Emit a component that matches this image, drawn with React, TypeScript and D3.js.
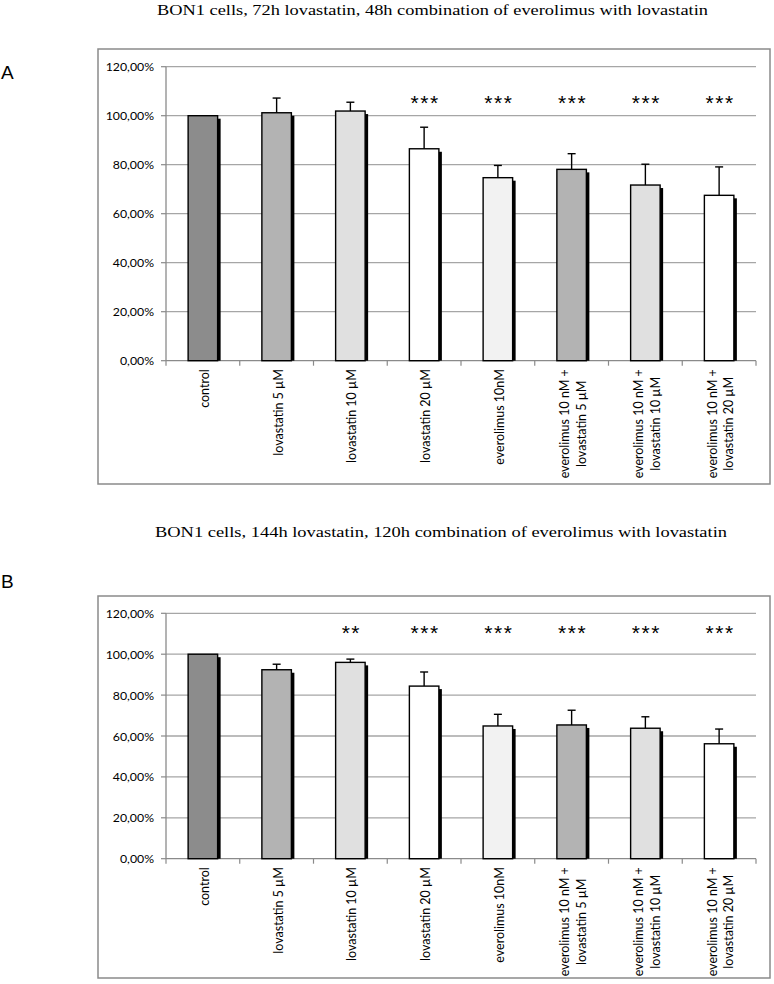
import React from "react";
import * as d3 from "d3";

const categories = [
  ["control"],
  ["lovastatin 5 µM"],
  ["lovastatin 10 µM"],
  ["lovastatin 20 µM"],
  ["everolimus 10nM"],
  ["everolimus 10 nM +", "lovastatin 5 µM"],
  ["everolimus 10 nM +", "lovastatin 10 µM"],
  ["everolimus 10 nM +", "lovastatin 20 µM"],
];
const barColors = ["#8c8c8c", "#b3b3b3", "#e0e0e0", "#ffffff", "#f2f2f2", "#b3b3b3", "#e0e0e0", "#ffffff"];

const valuesA = [100, 101.2, 101.9, 86.5, 74.7, 78.1, 71.7, 67.5];
const errorsA = [0, 6.0, 3.6, 8.8, 5.0, 6.4, 8.5, 11.6];
const starsA = ["", "", "", "***", "***", "***", "***", "***"];

const valuesB = [100, 92.4, 96.0, 84.4, 64.9, 65.4, 63.8, 56.2];
const errorsB = [0, 2.7, 1.6, 6.9, 5.7, 7.2, 5.6, 7.2];
const starsB = ["", "", "**", "***", "***", "***", "***", "***"];

const yTicks = [0, 20, 40, 60, 80, 100, 120];
const titleA = "BON1 cells, 72h lovastatin, 48h combination of everolimus with lovastatin";
const titleB = "BON1 cells, 144h lovastatin, 120h combination of everolimus with lovastatin";

const fmt = (v: number) => v.toFixed(2).replace(".", ",") + "%";
const labelFont = "Lato, 'Open Sans', sans-serif";
const labelSize = 12.5;

let ctx: CanvasRenderingContext2D | null = null;
function measure(s: string): number {
  if (typeof document !== "undefined") {
    if (!ctx) ctx = document.createElement("canvas").getContext("2d");
    if (ctx) {
      ctx.font = `${labelSize}px Lato`;
      return ctx.measureText(s).width;
    }
  }
  return s.length * 5.8;
}

type PanelProps = {
  letter: string;
  title: string;
  titleY: number;
  titleX0: number;
  titleX1: number;
  letterY: number;
  boxTop: number;
  boxBottom: number;
  plotTop: number;
  plotBottom: number;
  values: number[];
  errors: number[];
  stars: string[];
  starVal: number;
};

function Panel(p: PanelProps) {
  const left = 166;
  const right = 756;
  const x = d3.scaleBand<number>().domain(d3.range(categories.length)).range([left, right]).paddingInner(0).paddingOuter(0);
  const y = d3.scaleLinear().domain([0, 120]).range([p.plotBottom, p.plotTop]);
  const bw = 29.5;
  return (
    <g>
      <text
        x={p.titleX0}
        y={p.titleY}
        textLength={p.titleX1 - p.titleX0}
        lengthAdjust="spacingAndGlyphs"
        fontFamily="'Liberation Serif', 'Times New Roman', serif"
        fontSize={15}
        fill="#000"
      >
        {p.title}
      </text>
      <text x={1} y={p.letterY} fontFamily="'Liberation Sans', Arial, sans-serif" fontSize={19} fill="#000">
        {p.letter}
      </text>
      <rect x={98} y={p.boxTop} width={672} height={p.boxBottom - p.boxTop} fill="#fff" stroke="#8a8a8a" strokeWidth={1.5} />
      {yTicks.map((t) => (
        <g key={t}>
          {t > 0 && <line x1={left} x2={right} y1={y(t)} y2={y(t)} stroke="#a6a6a6" strokeWidth={1.3} />}
          <line x1={left - 5} x2={left} y1={y(t)} y2={y(t)} stroke="#8a8a8a" strokeWidth={1.2} />
          <text x={left - 12} y={y(t) + 4.5} textAnchor="end" fontFamily={labelFont} fontSize={12.3} fill="#000">
            {fmt(t)}
          </text>
        </g>
      ))}
      <line x1={left} x2={left} y1={y(120)} y2={y(0)} stroke="#8a8a8a" strokeWidth={1.3} />
      <line x1={left} x2={right} y1={y(0)} y2={y(0)} stroke="#8a8a8a" strokeWidth={1.3} />
      {d3.range(categories.length + 1).map((i) => {
        const xx = left + i * x.bandwidth();
        return <line key={i} x1={xx} x2={xx} y1={y(0)} y2={y(0) + 5} stroke="#8a8a8a" strokeWidth={1.2} />;
      })}
      {p.values.map((v, i) => {
        const cx = (x(i) as number) + x.bandwidth() / 2;
        const x0 = cx - bw / 2;
        const top = y(v);
        const etop = y(v + p.errors[i]);
        return (
          <g key={i}>
            <rect x={x0 + 3} y={top + 3} width={bw} height={y(0) - top - 3} fill="#000" />
            <rect x={x0} y={top} width={bw} height={y(0) - top} fill={barColors[i]} stroke="#000" strokeWidth={1.4} />
            {p.errors[i] > 0 && (
              <g stroke="#000" strokeWidth={1.4}>
                <line x1={cx} x2={cx} y1={top} y2={etop} />
                <line x1={cx - 4} x2={cx + 4} y1={etop} y2={etop} />
              </g>
            )}
            {p.stars[i] && (
              <text x={cx + 1} y={y(p.starVal) + 9} textAnchor="middle" fontFamily="'Liberation Sans', Arial, sans-serif" fontSize={21} letterSpacing={1.5} fill="#000">
                {p.stars[i]}
              </text>
            )}
          </g>
        );
      })}
      {categories.map((lines, i) => {
        const cx = (x(i) as number) + x.bandwidth() / 2;
        const n = lines.length;
        const spacing = 16.5;
        const blockLen = d3.max(lines, (l) => measure(l)) as number;
        const top = y(0) + 8.5;
        const centerY = top + blockLen / 2;
        return (
          <g key={i}>
            {lines.map((l, j) => {
              const lx = cx + 6 + (j - (n - 1) / 2) * spacing;
              return (
                <text key={j} transform={`translate(${lx},${centerY}) rotate(-90)`} textAnchor="middle" fontFamily={labelFont} fontSize={labelSize} fill="#000">
                  {l}
                </text>
              );
            })}
          </g>
        );
      })}
    </g>
  );
}

export default function App() {
  return (
    <svg width={774} height={984} style={{ position: "absolute", left: 0, top: 0, background: "#fff" }}>
      <rect x={0} y={0} width={774} height={984} fill="#fff" />
      <Panel
        letter="A"
        title={titleA}
        titleX0={157}
        titleX1={708}
        titleY={15}
        letterY={79}
        boxTop={49}
        boxBottom={484}
        plotTop={66.7}
        plotBottom={360.7}
        values={valuesA}
        errors={errorsA}
        stars={starsA}
        starVal={106}
      />
      <Panel
        letter="B"
        title={titleB}
        titleX0={155}
        titleX1={727}
        titleY={537}
        letterY={588}
        boxTop={596}
        boxBottom={978}
        plotTop={613.3}
        plotBottom={858.7}
        values={valuesB}
        errors={errorsB}
        stars={starsB}
        starVal={111.3}
      />
    </svg>
  );
}
